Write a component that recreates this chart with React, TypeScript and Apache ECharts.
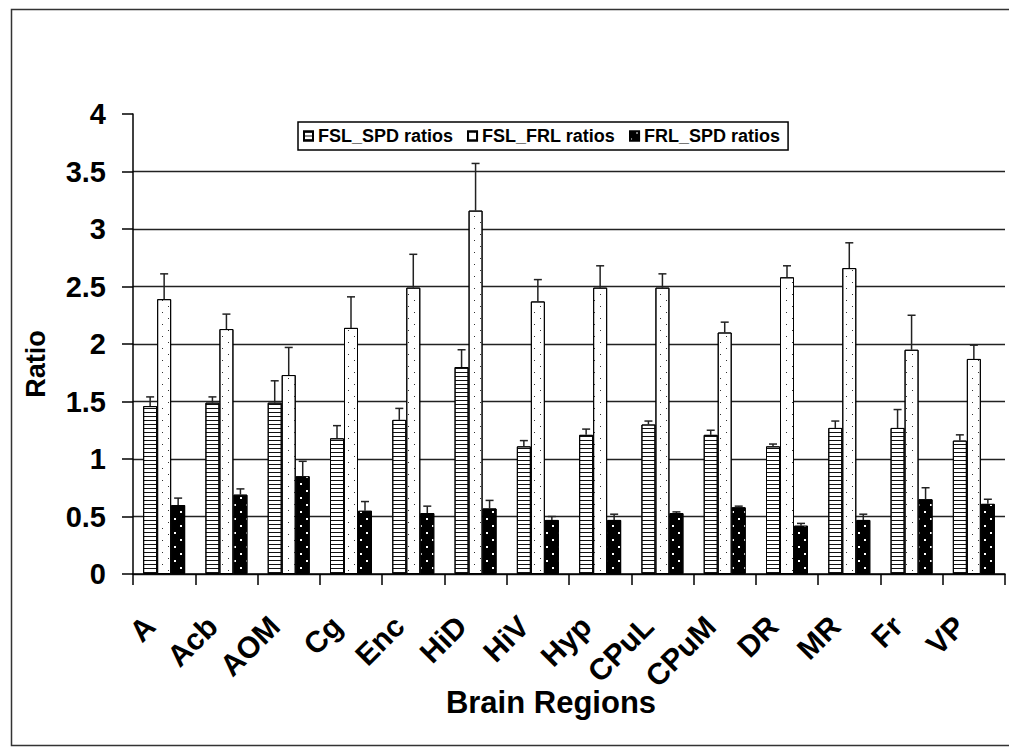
import React, { useEffect, useRef } from "react";
import * as echarts from "echarts";

const categories = ["A", "Acb", "AOM", "Cg", "Enc", "HiD", "HiV", "Hyp", "CPuL", "CPuM", "DR", "MR", "Fr", "VP"];
const seriesNames = ["FSL_SPD ratios", "FSL_FRL ratios", "FRL_SPD ratios"];

const fslSpd = [1.46, 1.49, 1.49, 1.18, 1.34, 1.8, 1.11, 1.21, 1.3, 1.21, 1.11, 1.27, 1.27, 1.16];
const fslSpdErr = [0.08, 0.05, 0.19, 0.11, 0.1, 0.15, 0.05, 0.05, 0.03, 0.04, 0.02, 0.06, 0.16, 0.05];
const fslFrl = [2.39, 2.13, 1.73, 2.14, 2.49, 3.16, 2.37, 2.49, 2.49, 2.1, 2.58, 2.66, 1.95, 1.87];
const fslFrlErr = [0.22, 0.13, 0.24, 0.27, 0.29, 0.41, 0.19, 0.19, 0.12, 0.09, 0.1, 0.22, 0.3, 0.12];
const frlSpd = [0.6, 0.69, 0.85, 0.55, 0.53, 0.57, 0.47, 0.47, 0.53, 0.58, 0.42, 0.47, 0.65, 0.61];
const frlSpdErr = [0.06, 0.05, 0.13, 0.08, 0.06, 0.07, 0.03, 0.05, 0.01, 0.01, 0.02, 0.05, 0.1, 0.04];

const FONT = "'Liberation Sans', Arial, sans-serif";

export default function App() {
  const ref = useRef<HTMLDivElement>(null);
  useEffect(() => {
    document.body.style.margin = "0";
    if (!ref.current) return;
    const chart = echarts.init(ref.current, undefined, { renderer: "svg" });

    const barW = 14;
    const offsets = [-barW, 0, barW];

    const stripeDecal = {
      symbol: "rect",
      symbolSize: 1,
      color: "#111",
      dashArrayX: [6, 0],
      dashArrayY: [1, 3],
      rotation: 0,
    };
    const dotDecal = {
      symbol: "rect",
      symbolSize: 1,
      color: "#333",
      dashArrayX: [
        [1, 11],
        [0, 6, 1, 5],
      ],
      dashArrayY: [1, 5],
      rotation: 0,
    };
    const whiteDotDecal = {
      symbol: "rect",
      symbolSize: 1,
      color: "#fff",
      dashArrayX: [
        [2, 10],
        [0, 6, 2, 4],
      ],
      dashArrayY: [2, 5],
      rotation: 0,
    };

    const makeBar = (name: string, data: number[], color: string, decal: any) => ({
      name,
      type: "bar",
      data,
      barWidth: barW,
      barGap: "0%",
      itemStyle: { color, borderColor: "#000", borderWidth: 1, decal },
      z: 2,
    });

    const makeErr = (name: string, vals: number[], errs: number[], off: number) => ({
      name: name + " err",
      type: "custom",
      z: 3,
      silent: true,
      data: vals.map((v, i) => [i, v, errs[i]]),
      encode: { x: 0, y: 1 },
      renderItem: (params: any, api: any) => {
        const idx = api.value(0);
        const v = api.value(1);
        const e = api.value(2);
        const base = api.coord([idx, v]);
        const top = api.coord([idx, v + e]);
        const x = base[0] + off;
        const st = { stroke: "#222", lineWidth: 1.5 };
        return {
          type: "group",
          children: [
            { type: "line", shape: { x1: x, y1: base[1], x2: x, y2: top[1] }, style: st },
            { type: "line", shape: { x1: x - 4, y1: top[1], x2: x + 4, y2: top[1] }, style: st },
          ],
        };
      },
    });

    const option: any = {
      animation: false,
      backgroundColor: "#fff",
      grid: { left: 133, right: 4, top: 114, bottom: 174 },
      legend: {
        data: seriesNames,
        left: 298,
        top: 122,
        itemWidth: 9,
        itemHeight: 9,
        itemGap: 14,
        icon: "rect",
        padding: [5, 8, 5, 5],
        borderColor: "#000",
        borderWidth: 1.5,
        backgroundColor: "#fff",
        textStyle: { fontFamily: FONT, fontSize: 18, fontWeight: "bold", color: "#000" },
      },
      graphic: [
        {
          type: "rect",
          left: 9,
          top: 7,
          shape: { width: 1010, height: 736 },
          style: { fill: "none", stroke: "#333", lineWidth: 1.5 },
          silent: true,
          z: 0,
        },
      ],
      xAxis: {
        type: "category",
        data: categories,
        axisLine: { show: true, lineStyle: { color: "#000", width: 1.5 } },
        axisTick: { show: true, length: 11, lineStyle: { color: "#000", width: 1.5 } },
        axisLabel: {
          interval: 0,
          rotate: 45,
          margin: 33,
          padding: [0, 20, 0, 0],
          fontFamily: FONT,
          fontSize: 30,
          fontWeight: "bold",
          color: "#000",
        },
        splitLine: { show: false },
        name: "Brain Regions",
        nameLocation: "middle",
        nameGap: 113,
        nameMoveOverlap: false,
        nameTextStyle: {
          fontFamily: FONT,
          fontSize: 31,
          fontWeight: "bold",
          color: "#000",
          padding: [0, 36, 0, 0],
        },
      },
      yAxis: {
        type: "value",
        min: 0,
        max: 4,
        interval: 0.5,
        axisLine: { show: true, lineStyle: { color: "#000", width: 1.5 } },
        axisTick: { show: true, length: 11, lineStyle: { color: "#000", width: 1.5 } },
        axisLabel: {
          margin: 27,
          fontFamily: FONT,
          fontSize: 29,
          fontWeight: "bold",
          color: "#000",
          formatter: (v: number) => String(v),
        },
        splitLine: { show: true, showMaxLine: false, lineStyle: { color: "#222", width: 1.3 } },
        name: "Ratio",
        nameLocation: "middle",
        nameRotate: 90,
        nameGap: 84,
        nameMoveOverlap: false,
        nameTextStyle: {
          fontFamily: FONT,
          fontSize: 27,
          fontWeight: "bold",
          color: "#000",
          padding: [0, 40, 0, 0],
        },
      },
      series: [
        makeBar(seriesNames[0], fslSpd, "#fff", stripeDecal),
        makeBar(seriesNames[1], fslFrl, "#fff", dotDecal),
        makeBar(seriesNames[2], frlSpd, "#000", whiteDotDecal),
        makeErr(seriesNames[0], fslSpd, fslSpdErr, offsets[0]),
        makeErr(seriesNames[1], fslFrl, fslFrlErr, offsets[1]),
        makeErr(seriesNames[2], frlSpd, frlSpdErr, offsets[2]),
      ],
    };
    chart.setOption(option);
    return () => chart.dispose();
  }, []);
  return <div ref={ref} style={{ width: 1009, height: 748 }} />;
}
